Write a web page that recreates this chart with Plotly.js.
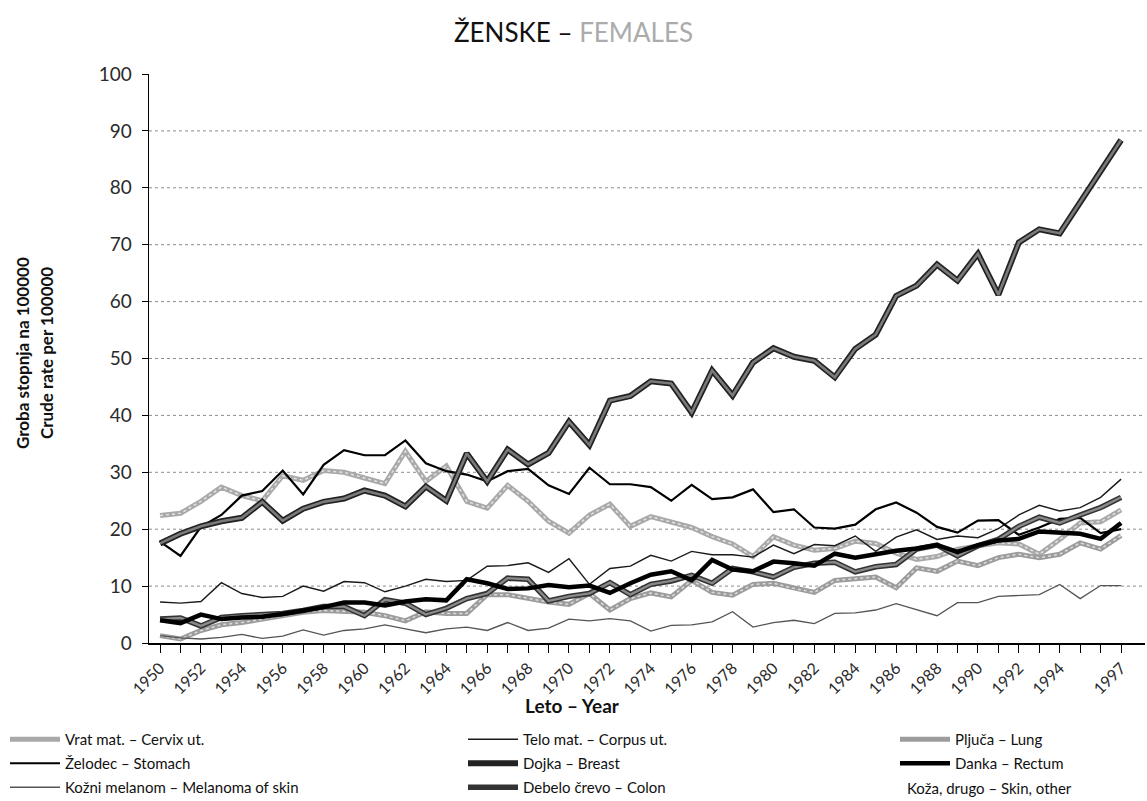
<!DOCTYPE html>
<html>
<head>
<meta charset="utf-8">
<script src="https://cdn.plot.ly/plotly-3.0.1.min.js"></script>
<style>
  html, body { margin: 0; padding: 0; background: #fff; }
  #chart { width: 1147px; height: 801px; }
</style>
</head>
<body>
<div id="chart"></div>
<script>
const years = [1950,1951,1952,1953,1954,1955,1956,1957,1958,1959,
               1960,1961,1962,1963,1964,1965,1966,1967,1968,1969,
               1970,1971,1972,1973,1974,1975,1976,1977,1978,1979,
               1980,1981,1982,1983,1984,1985,1986,1987,1988,1989,
               1990,1991,1992,1993,1994,1995,1996,1997];

const tickLabels = ["1950","","1952","","1954","","1956","","1958","",
                    "1960","","1962","","1964","","1966","","1968","",
                    "1970","","1972","","1974","","1976","","1978","",
                    "1980","","1982","","1984","","1986","","1988","",
                    "1990","","1992","","1994","","","1997"];

// Vrat mat. – Cervix ut.
const cervix = [22.4,22.8,24.9,27.4,25.9,25.0,29.4,28.6,30.3,30.0,
                29.0,28.0,33.7,28.4,31.1,24.9,23.7,27.7,24.9,21.4,
                19.3,22.5,24.4,20.5,22.2,21.2,20.3,18.7,17.4,15.2,
                18.7,17.2,16.3,16.6,17.9,17.5,15.8,14.7,15.2,16.5,
                17.1,17.6,17.4,15.6,18.2,21.1,21.3,23.4];
// Želodec – Stomach
const stomach = [17.8,15.3,20.4,22.5,25.9,26.7,30.3,26.1,31.3,33.9,
                 33.0,33.0,35.6,31.6,30.2,29.6,28.4,30.2,30.6,27.7,
                 26.2,30.8,27.9,27.9,27.4,25.0,27.8,25.3,25.6,27.0,
                 23.0,23.5,20.3,20.1,20.8,23.5,24.7,22.9,20.4,19.4,
                 21.5,21.6,19.0,20.3,21.8,22.0,19.3,20.0];
// Kožni melanom – Melanoma of skin
const melanoma = [1.3,0.9,0.7,1.0,1.5,0.8,1.2,2.3,1.4,2.2,
                  2.5,3.2,2.5,1.8,2.5,2.8,2.2,3.6,2.2,2.6,
                  4.2,3.9,4.3,3.9,2.1,3.1,3.2,3.7,5.5,2.8,
                  3.6,4.0,3.4,5.2,5.3,5.8,6.9,5.8,4.8,7.1,
                  7.1,8.2,8.4,8.5,10.3,7.8,10.1,10.1];
// Telo mat. – Corpus ut.
const corpus = [7.2,7.0,7.3,10.6,8.7,8.0,8.2,10.0,9.1,10.8,
                10.6,9.0,10.0,11.2,10.8,11.0,13.5,13.6,14.1,12.4,
                14.8,10.3,13.1,13.5,15.4,14.4,16.1,15.5,15.5,15.1,
                17.2,15.7,17.3,17.1,18.8,16.1,18.6,19.9,18.2,18.8,
                18.5,20.1,22.5,24.2,23.2,23.8,25.6,28.8];
// Dojka – Breast
const breast = [17.5,19.2,20.5,21.4,22.0,24.8,21.5,23.6,24.8,25.4,
                26.8,25.9,24.0,27.5,25.0,33.3,28.4,34.0,31.4,33.4,
                38.9,34.8,42.6,43.4,46.0,45.6,40.5,47.9,43.5,49.3,
                51.8,50.3,49.6,46.7,51.7,54.2,61.0,62.8,66.5,63.7,
                68.4,61.2,70.4,72.7,72.0,77.5,82.9,88.4];
// Debelo črevo – Colon
const colon = [4.2,4.4,3.0,4.5,4.8,5.0,5.2,5.7,6.4,6.4,
               4.8,7.6,7.0,5.0,6.1,7.8,8.7,11.4,11.2,7.4,
               8.2,8.7,10.6,8.5,10.3,10.9,11.9,10.5,13.1,12.5,
               11.6,13.3,14.0,14.2,12.5,13.4,13.8,16.5,17.2,15.3,
               17.1,18.2,20.5,22.1,21.1,22.5,23.8,25.6];
// Pljuča – Lung
const lung = [1.3,0.7,2.2,3.2,3.6,4.2,4.8,5.4,5.7,5.6,
              5.4,4.8,3.9,5.5,5.2,5.2,8.5,8.5,7.8,7.2,
              6.8,8.7,5.8,7.8,8.8,8.1,11.0,8.9,8.4,10.3,
              10.5,9.6,8.9,11.0,11.3,11.6,9.7,13.2,12.6,14.4,
              13.6,15.0,15.6,15.0,15.6,17.6,16.5,18.9];
// Danka – Rectum
const rectum = [4.0,3.5,5.0,4.2,4.5,4.6,5.1,5.7,6.3,7.1,
                7.1,6.6,7.3,7.7,7.5,11.2,10.5,9.5,9.6,10.2,
                9.8,10.1,8.8,10.5,12.0,12.6,11.0,14.6,12.9,12.6,
                14.3,14.0,13.6,15.7,15.0,15.6,16.2,16.6,17.2,16.0,
                17.2,18.0,18.3,19.6,19.4,19.2,18.3,21.1];

const names = {
  cervix: "Vrat mat. – Cervix ut.",
  stomach: "Želodec – Stomach",
  melanoma: "Kožni melanom – Melanoma of skin",
  corpus: "Telo mat. – Corpus ut.",
  breast: "Dojka – Breast",
  colon: "Debelo črevo – Colon",
  lung: "Pljuča – Lung",
  rectum: "Danka – Rectum",
  skin: "Koža, drugo – Skin, other"
};

const FONT = "Lato, 'Open Sans', 'DejaVu Sans', sans-serif";

function tr(y, key, color, width, legend, rank, show, dash) {
  return {
    x: years, y: y, type: "scatter", mode: "lines", name: names[key],
    legendgroup: key,
    line: {color: color, width: width, dash: dash || "solid", shape: "linear"},
    legend: legend, legendrank: rank, showlegend: show,
    hoverinfo: "skip"
  };
}

const traces = [
  tr(cervix, "cervix", "#a9a9a9", 5, "legend", 1, true),
  tr(cervix, "cervix", "#e2e2e2", 1.5, "legend", 1, false, "dot"),
  tr(lung, "lung", "#9c9c9c", 5, "legend3", 1, true),
  tr(lung, "lung", "#dcdcdc", 1.5, "legend3", 1, false, "dot"),
  tr(melanoma, "melanoma", "#555555", 1.3, "legend", 3, true),
  tr(corpus, "corpus", "#1a1a1a", 1.4, "legend2", 1, true),
  tr(stomach, "stomach", "#000000", 2.2, "legend", 2, true),
  tr(colon, "colon", "#333333", 5.5, "legend2", 3, true),
  tr(colon, "colon", "#8a8a8a", 2.3, "legend2", 3, false),
  tr(rectum, "rectum", "#000000", 4.5, "legend3", 2, true),
  tr(breast, "breast", "#222222", 6, "legend2", 2, true),
  tr(breast, "breast", "#7a7a7a", 2.6, "legend2", 2, false)
];

const L = 149, R = 2, T = 74, B = 158, W = 1147, H = 801;
const pw = W - L - R, ph = H - T - B;
const px = v => (v - L) / pw;          // pixel x -> paper
const py = v => (H - B - v) / ph;      // pixel y -> paper
const cx = v => v / W;                 // pixel x -> container
const cy = v => 1 - v / H;             // pixel y -> container

const gridShapes = [];
for (let g = 10; g <= 90; g += 10) {
  gridShapes.push({type: "line", xref: "paper", yref: "y", x0: 0, x1: 1, y0: g, y1: g,
                   line: {color: "#8c8c8c", width: 1, dash: "dot"}, layer: "below"});
}

const legendBase = {
  orientation: "v", xanchor: "left", yanchor: "top",
  xref: "container", yref: "container",
  font: {family: FONT, size: 15, color: "#111"},
  bgcolor: "rgba(0,0,0,0)", borderwidth: 0, itemwidth: 50,
  traceorder: "grouped", tracegroupgap: 1.5,
  itemclick: false, itemdoubleclick: false
};

const layout = {
  width: W, height: H,
  margin: {l: L, r: R, t: T, b: B, autoexpand: false},
  paper_bgcolor: "#fff", plot_bgcolor: "#fff",
  font: {family: FONT, color: "#111"},
  title: {
    text: 'ŽENSKE – <span style="color:#ababab">FEMALES</span>',
    font: {family: FONT, size: 26, color: "#111"},
    x: 0.5, xanchor: "center", xref: "container",
    y: 1 - 33 / H, yanchor: "middle", yref: "container"
  },
  xaxis: {
    range: [1949.46, 1998.17],
    tickmode: "array", tickvals: years, ticktext: tickLabels,
    tickangle: -45, ticks: "outside", ticklen: 8, tickwidth: 1, tickcolor: "#000",
    tickfont: {family: FONT, size: 16, color: "#2a2a2a"},
    showline: true, linecolor: "#000", linewidth: 1.5,
    showgrid: false, zeroline: false, fixedrange: true, automargin: false
  },
  yaxis: {
    range: [0, 100], tickmode: "array",
    tickvals: [0,10,20,30,40,50,60,70,80,90,100],
    ticks: "outside", ticklen: 6, tickwidth: 1, tickcolor: "#000",
    ticklabelstandoff: 6,
    tickfont: {family: FONT, size: 19, color: "#2a2a2a"},
    showline: true, linecolor: "#000", linewidth: 1.5,
    showgrid: false, zeroline: false, fixedrange: true, automargin: false
  },
  shapes: gridShapes,
  showlegend: true,
  legend: Object.assign({}, legendBase, {x: cx(5), y: cy(723)}),
  legend2: Object.assign({}, legendBase, {x: cx(463), y: cy(723)}),
  legend3: Object.assign({}, legendBase, {x: cx(895), y: cy(723)}),
  annotations: [
    {text: "<b>Groba stopnja na 100000</b>", xref: "paper", yref: "paper",
     x: px(22), y: py(353), textangle: -90, showarrow: false,
     xanchor: "center", yanchor: "middle", font: {family: FONT, size: 17, color: "#111"}},
    {text: "<b>Crude rate per 100000</b>", xref: "paper", yref: "paper",
     x: px(46), y: py(353), textangle: -90, showarrow: false,
     xanchor: "center", yanchor: "middle", font: {family: FONT, size: 17, color: "#111"}},
    {text: "<b>Leto – Year</b>", xref: "paper", yref: "paper",
     x: px(572), y: py(705), showarrow: false,
     xanchor: "center", yanchor: "middle", font: {family: FONT, size: 19, color: "#111"}},
    {text: names.skin, xref: "paper", yref: "paper",
     x: px(905), y: py(788), showarrow: false,
     xanchor: "left", yanchor: "middle", font: {family: FONT, size: 15, color: "#111"}}
  ]
};

Plotly.newPlot("chart", traces, layout, {displayModeBar: false, staticPlot: true});
</script>
</body>
</html>
